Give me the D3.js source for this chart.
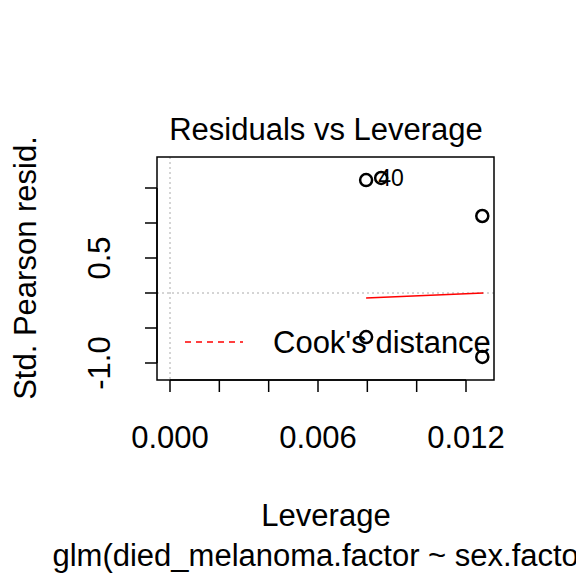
<!DOCTYPE html>
<html><head><meta charset="UTF-8">
<script src="https://cdn.jsdelivr.net/npm/d3@7"></script>
<style>body{margin:0;background:#fff;overflow:hidden}text{font-family:"Liberation Sans",Arial,sans-serif}</style>
</head><body>
<script>
const leverage = [0.00795, 0.00856, 0.01266, 0.00795, 0.01266];
const resid = [1.614, 1.643, 1.10, -0.629, -0.914];
const ptLabels = ["", "40", "", "", ""];
const smoothX = [0.00795, 0.0127];
const smoothY = [-0.071, 0.0];
const xTicks = [0, 0.002, 0.004, 0.006, 0.008, 0.010, 0.012];
const xTickLabels = {"0": "0.000", "0.006": "0.006", "0.012": "0.012"};
const yTicks = [-1.0, -0.5, 0, 0.5, 1.0, 1.5];
const yTickLabels = {"-1": "-1.0", "0.5": "0.5"};

const svg = d3.select("body").append("svg").attr("width", 576).attr("height", 576);
const L = 157, R = 494, T = 157, B = 380;
const x = d3.scaleLinear().domain([0, 0.012]).range([170, 466]);
const y = d3.scaleLinear().domain([0, 1]).range([293, 223]);
const FS = 31;

svg.append("line").attr("x1", x(0)).attr("x2", x(0)).attr("y1", T).attr("y2", B)
  .attr("stroke", "#aaa").attr("stroke-dasharray", "2,3");
svg.append("line").attr("x1", L).attr("x2", R).attr("y1", y(0)).attr("y2", y(0))
  .attr("stroke", "#aaa").attr("stroke-dasharray", "2,3");

svg.append("rect").attr("x", L).attr("y", T).attr("width", R - L).attr("height", B - T)
  .attr("fill", "none").attr("stroke", "#000").attr("stroke-width", 1.5);

const xAxis = svg.append("g").attr("transform", `translate(0,${B})`);
xAxis.selectAll("line").data(xTicks).join("line")
  .attr("x1", d => x(d)).attr("x2", d => x(d)).attr("y1", 0).attr("y2", 12).attr("stroke", "#000").attr("stroke-width", 1.5);
xAxis.append("line").attr("x1", x(0)).attr("x2", x(0.012)).attr("stroke", "#000").attr("stroke-width", 1.5);
xAxis.selectAll("text").data(xTicks.filter(d => xTickLabels[String(d)])).join("text")
  .attr("x", d => x(d)).attr("y", 68).attr("text-anchor", "middle").attr("font-size", FS)
  .text(d => xTickLabels[String(d)]);

const yAxis = svg.append("g").attr("transform", `translate(${L},0)`);
yAxis.selectAll("line").data(yTicks).join("line")
  .attr("y1", d => y(d)).attr("y2", d => y(d)).attr("x1", 0).attr("x2", -12).attr("stroke", "#000").attr("stroke-width", 1.5);
yAxis.append("line").attr("y1", y(-1)).attr("y2", y(1.5)).attr("stroke", "#000").attr("stroke-width", 1.5);
yAxis.selectAll("text").data(yTicks.filter(d => yTickLabels[String(d)])).join("text")
  .attr("transform", d => `translate(-47,${y(d)}) rotate(-90)`).attr("text-anchor", "middle").attr("font-size", FS)
  .text(d => yTickLabels[String(d)]);

svg.append("path").attr("d", d3.line().x(d => x(d[0])).y(d => y(d[1]))(smoothX.map((v, i) => [v, smoothY[i]])))
  .attr("stroke", "red").attr("stroke-width", 1.5).attr("fill", "none");

svg.selectAll("circle.pt").data(leverage).join("circle")
  .attr("cx", d => x(d)).attr("cy", (d, i) => y(resid[i])).attr("r", 6)
  .attr("fill", "none").attr("stroke", "#000").attr("stroke-width", 2.5);
svg.selectAll("text.lab").data(leverage).join("text")
  .attr("x", d => x(d) - 3).attr("y", (d, i) => y(resid[i]) + 8).attr("font-size", 23)
  .text((d, i) => ptLabels[i]);

svg.append("line").attr("x1", 185).attr("x2", 243).attr("y1", 342).attr("y2", 342)
  .attr("stroke", "red").attr("stroke-width", 1.5).attr("stroke-dasharray", "6,5");
svg.append("text").attr("x", 273).attr("y", 353).attr("font-size", FS).text("Cook's distance");

svg.append("text").attr("x", 326).attr("y", 140).attr("text-anchor", "middle").attr("font-size", FS).text("Residuals vs Leverage");
svg.append("text").attr("x", 326).attr("y", 526).attr("text-anchor", "middle").attr("font-size", FS).text("Leverage");
svg.append("text").attr("x", 326).attr("y", 566).attr("text-anchor", "middle").attr("font-size", FS).text("glm(died_melanoma.factor ~ sex.factor)");
svg.append("text").attr("transform", "translate(36,268) rotate(-90)").attr("text-anchor", "middle").attr("font-size", FS).text("Std. Pearson resid.");
</script>
</body></html>
